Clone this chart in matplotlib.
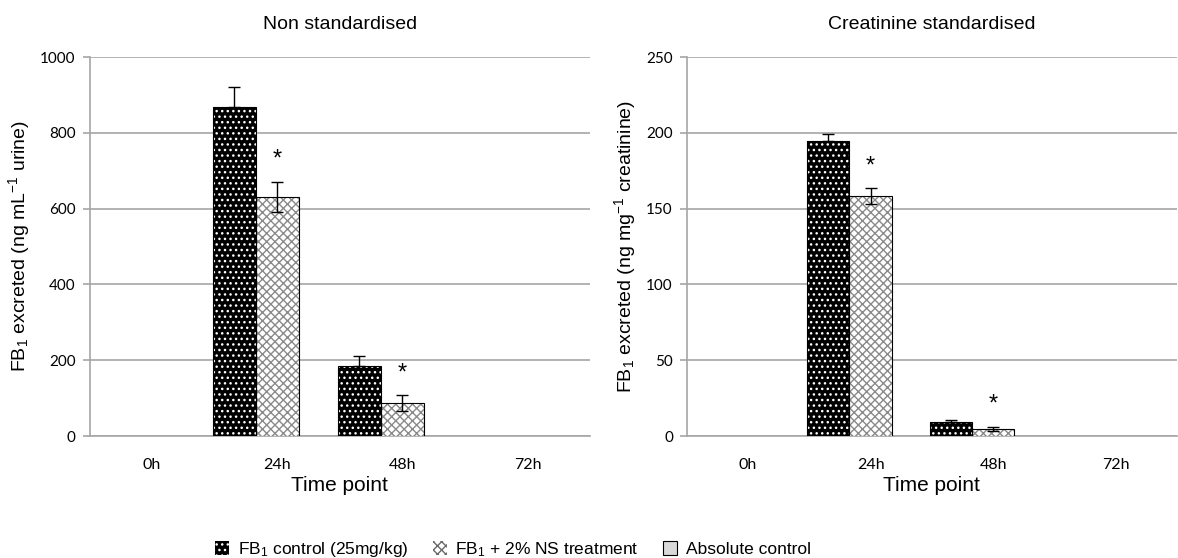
import numpy as np
import matplotlib
matplotlib.use("Agg")
import matplotlib.pyplot as plt
from matplotlib.patches import Patch

plt.rcParams['font.family'] = ['Liberation Sans', 'DejaVu Sans']
plt.rcParams['mathtext.fontset'] = 'custom'
plt.rcParams['mathtext.rm'] = 'Liberation Sans'
plt.rcParams['mathtext.it'] = 'Liberation Sans:italic'
plt.rcParams['hatch.linewidth'] = 1.0

timepoints = ['0h', '24h', '48h', '72h']
series_names = ['FB$_1$ control (25mg/kg)', 'FB$_1$ + 2% NS treatment', 'Absolute control']

# non standardised (ng/mL urine)
ns_control = [0, 869, 186, 0]
ns_control_err = [0, 52, 24, 0]
ns_treat = [0, 631, 87, 0]
ns_treat_err = [0, 40, 20, 0]
ns_absolute = [0, 0, 0, 0]

# creatinine standardised (ng/mg creatinine)
cs_control = [0, 194.5, 9.5, 0]
cs_control_err = [0, 5, 1, 0]
cs_treat = [0, 158.3, 4.5, 0]
cs_treat_err = [0, 5, 1.5, 0]
cs_absolute = [0, 0, 0, 0]

signif = [False, True, True, False]

grid_col = '#a6a6a6'
bw = 0.344

fig = plt.figure(figsize=(11.78, 5.58), dpi=100)
ax1 = fig.add_axes([0.076, 0.2186, 0.425, 0.6792])
ax2 = fig.add_axes([0.583, 0.2186, 0.416, 0.6792])


def draw_panel(ax, title, ylabel, ymax, ystep, ctrl, ctrl_e, trt, trt_e, absc):
    x = np.arange(len(timepoints))
    ctrl = np.array(ctrl, float)
    trt = np.array(trt, float)
    absc = np.array(absc, float)
    ctrl_e = np.array(ctrl_e, float)
    trt_e = np.array(trt_e, float)
    lw_c = np.where(ctrl > 0, 0.8, 0)
    lw_t = np.where(trt > 0, 0.8, 0)
    lw_a = np.where(absc > 0, 0.8, 0)
    # control: black with white dots
    ax.bar(x - bw, ctrl, bw, color='black', edgecolor='white', hatch='...', lw=0, zorder=3)
    ax.bar(x - bw, ctrl, bw, fill=False, edgecolor='black', lw=lw_c, zorder=4)
    m = ctrl > 0
    ax.errorbar(x[m] - bw, ctrl[m], yerr=[np.zeros(m.sum()), ctrl_e[m]], fmt='none', ecolor='black',
                elinewidth=1, capsize=4, capthick=1, zorder=5)
    # treatment: white with grey weave
    ax.bar(x, trt, bw, color='white', edgecolor='#8a8a8a', hatch='xxxx', lw=0, zorder=3)
    ax.bar(x, trt, bw, fill=False, edgecolor='black', lw=lw_t, zorder=4)
    m = trt > 0
    ax.errorbar(x[m], trt[m], yerr=trt_e[m], fmt='none', ecolor='black',
                elinewidth=1, capsize=4, capthick=1, zorder=5)
    # absolute control
    ax.bar(x + bw, absc, bw, color='#d9d9d9', edgecolor='black', lw=lw_a, zorder=3)
    for i in range(len(x)):
        if signif[i]:
            ax.annotate('*', (x[i], trt[i] + trt_e[i]), xytext=(0, 8), textcoords='offset points',
                        ha='center', va='bottom', fontsize=17, zorder=6)

    ax.set_xlim(-0.5, len(timepoints) - 0.5)
    ax.set_ylim(0, ymax)
    ax.set_yticks(np.arange(0, ymax + 1, ystep))
    ax.set_xticks(x)
    ax.set_xticklabels(timepoints, family='Lato', fontsize=11.5)
    for lab in ax.get_yticklabels():
        lab.set_family('Lato')
        lab.set_fontsize(11)
    ax.yaxis.grid(True, color=grid_col, lw=1.2, zorder=0)
    ax.set_axisbelow(True)
    for s in ['top', 'right']:
        ax.spines[s].set_visible(False)
    ax.spines['left'].set_color(grid_col)
    ax.spines['bottom'].set_color(grid_col)
    ax.spines['left'].set_linewidth(1.2)
    ax.spines['bottom'].set_linewidth(1.2)
    ax.tick_params(axis='y', length=5, color=grid_col, width=1.2, pad=5)
    ax.tick_params(axis='x', length=0, pad=16)
    ax.set_title(title, fontsize=14, pad=20)
    ax.set_xlabel('Time point', fontsize=15, labelpad=3)
    ax.set_ylabel(ylabel, fontsize=14, labelpad=6)


draw_panel(ax1, 'Non standardised', 'FB$_1$ excreted (ng mL$^{-1}$ urine)', 1000, 200,
           ns_control, ns_control_err, ns_treat, ns_treat_err, ns_absolute)
draw_panel(ax2, 'Creatinine standardised', 'FB$_1$ excreted (ng mg$^{-1}$ creatinine)', 250, 50,
           cs_control, cs_control_err, cs_treat, cs_treat_err, cs_absolute)

handles = [
    Patch(facecolor='black', edgecolor='white', hatch='...', lw=0),
    Patch(facecolor='white', edgecolor='#6a6a6a', hatch='xxxx', lw=0),
    Patch(facecolor='#d9d9d9', edgecolor='black', lw=0.8),
]
fig.legend(handles, series_names, loc='lower center', bbox_to_anchor=(0.4355, -0.03), ncol=3,
           frameon=False, fontsize=12.5, handlelength=0.8, handleheight=0.8,
           handletextpad=0.5, columnspacing=1.4)

fig.savefig('out.png', dpi=100)
